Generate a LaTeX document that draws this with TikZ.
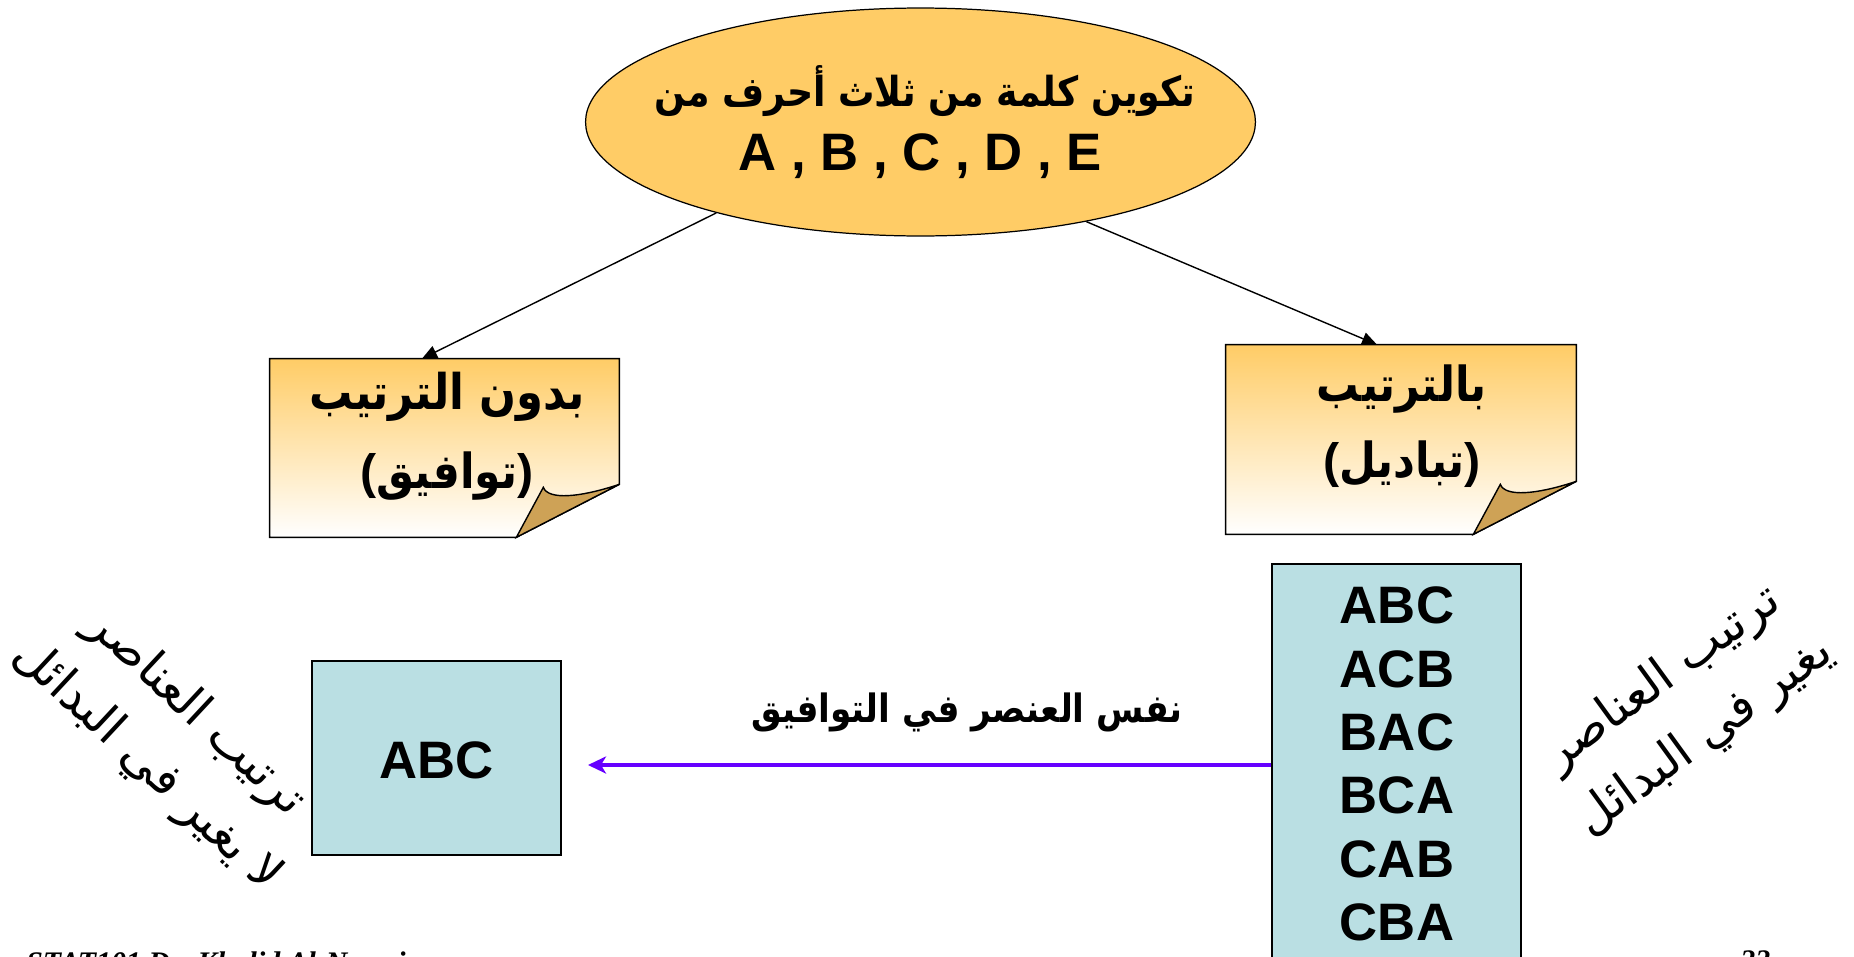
\documentclass[tikz,border=0pt]{standalone}
\usepackage{fontspec}
\setmainfont{Liberation Sans}
\newfontfamily\latinfont{Liberation Sans}
\newfontfamily\arabicfont[Script=Arabic, FakeStretch=0.88]{DejaVu Sans}
\newfontfamily\arabicplain[Script=Arabic]{DejaVu Sans}
\newfontfamily\footerfont{Liberation Serif}
\TeXXeTstate=1
\usetikzlibrary{shapes.geometric, arrows.meta}

\definecolor{ovalfill}{RGB}{255,204,102}
\definecolor{notetop}{RGB}{255,204,102}
\definecolor{flapfill}{RGB}{206,162,86}
\definecolor{boxfill}{RGB}{186,223,227}
\definecolor{arrowviolet}{RGB}{102,0,255}

% folded sticky note drawn from the anchors of an invisible box node
\newcommand{\notepaper}[1]{%
  \path[top color=notetop, bottom color=white, draw=black, line width=0.8pt]
    (#1.north west) -- (#1.north east) -- ([yshift=1.06cm]#1.south east)
    -- ([xshift=-2.06cm]#1.south east) -- (#1.south west) -- cycle;
  \filldraw[fill=flapfill, draw=black, line width=0.8pt]
    ([xshift=-2.06cm]#1.south east) -- ([yshift=1.06cm]#1.south east)
    .. controls ([xshift=-0.78cm,yshift=0.8cm]#1.south east)
    and ([xshift=-1.42cm,yshift=0.74cm]#1.south east)
    .. ([xshift=-1.52cm,yshift=1.0cm]#1.south east) -- cycle;
}
% parentheses set in the Latin face so they keep their shape
\newcommand{\lpar}{{\latinfont\bfseries(}}
\newcommand{\rpar}{{\latinfont\bfseries)}}

\tikzset{
  oval/.style={ellipse, draw=black, line width=0.7pt, fill=ovalfill,
    minimum width=13.4cm, minimum height=4.56cm, inner sep=0pt},
  notebox/.style={rectangle, inner sep=0pt},
  listbox/.style={rectangle, draw=black, line width=1.1pt, fill=boxfill, inner sep=0pt},
  arabbold/.style={inner sep=0pt, font=\arabicfont\bfseries\fontsize{#1}{#1}\selectfont},
  arabbold/.default=27.5,
  latinbold/.style={inner sep=0pt, align=center, font=\bfseries\fontsize{30}{36}\selectfont},
  remark/.style={inner sep=0pt, align=center, font=\arabicplain\fontsize{27.5}{41}\selectfont},
  footertext/.style={inner sep=0pt, anchor=base west, font=\footerfont\bfseries\itshape\fontsize{17}{19}\selectfont},
  thinarrow/.style={draw=black, line width=0.8pt, -{Triangle[length=0.3cm, width=0.26cm]}},
  boldarrow/.style={draw=arrowviolet, line width=2.6pt, -{Stealth[length=0.36cm, width=0.34cm, inset=0.1cm]}}
}

\begin{document}
\begin{tikzpicture}[x=0.02cm, y=-0.02cm]
\useasboundingbox (0,0) rectangle (1854,957);
\clip (0,0) rectangle (1854,957);

% top oval with its two lines of text
\node[oval] (ell) at (920.5,122) {};
\node[arabbold=23.5] (title) at (925,91) {\beginR تكوين كلمة من ثلاث أحرف من\endR};
\node[latinbold] (letters) at (920,156) {A , B , C , D , E};

% the two folded notes
\node[notebox, minimum width=6.98cm, minimum height=3.56cm] (lnote) at (444.5,448) {};
\node[notebox, minimum width=7.0cm, minimum height=3.78cm] (rnote) at (1401,439.5) {};
\notepaper{lnote}
\notepaper{rnote}
\node[arabbold=28] (lnoteA) at (447,397) {\beginR بدون الترتيب\endR};
\node[arabbold] (lnoteB) at (447,476) {\lpar\beginR توافيق\endR\rpar};
\node[arabbold] (rnoteA) at (1402,389) {\beginR بالترتيب\endR};
\node[arabbold] (rnoteB) at (1402,464) {\lpar\beginR تباديل\endR\rpar};

% arrows from the oval to the notes
\draw[thinarrow] (ell.204) -- ([xshift=-0.45cm]lnote.north);
\draw[thinarrow] (ell.329.5) -- ([xshift=-0.48cm]rnote.north);

% lists of arrangements
\node[listbox, minimum width=4.98cm, minimum height=3.88cm] (lbox) at (436.5,758) {};
\node[latinbold] (lword) at (436.5,760) {ABC};
\node[listbox, minimum width=4.98cm, minimum height=8.72cm] (rbox) at (1396.5,782) {};
\node[latinbold, font=\bfseries\fontsize{30}{36.05}\selectfont] (perms) at (1397,764)
  {ABC\\ACB\\BAC\\BCA\\CAB\\CBA};

% arrow between the lists
\coordinate (tip) at (588,765);
\draw[boldarrow] (rbox.west |- tip) -- (tip);
\node[arabbold=22.2] (same) at (967,712) {\beginR نفس العنصر في التوافيق\endR};

% slanted remarks
\node[remark, rotate=-43] (lremark) at (171,740)
  {\beginR ترتيب العناصر\endR\\\beginR لا يغير في البدائل\endR};
\node[remark, rotate=36] (rremark) at (1684,708)
  {\beginR ترتيب العناصر\endR\\\beginR يغير في البدائل\endR};

% footer
\node[footertext] (footer) at (26,972) {STAT101 Dr. Khalid Al-Nowaiser};
\node[footertext] (pagenum) at (1740,970) {22};
\end{tikzpicture}
\end{document}
